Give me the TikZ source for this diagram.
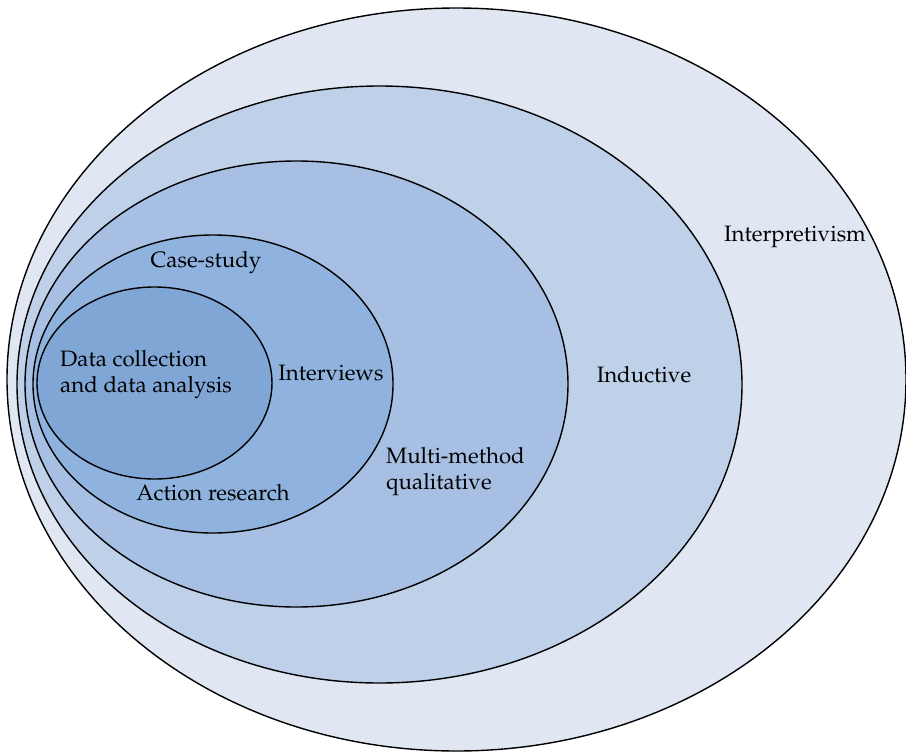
\documentclass[tikz,border=0pt]{standalone}
\usepackage[T1]{fontenc}
\usepackage{mathpazo}
\definecolor{c1}{RGB}{224,231,243}
\definecolor{c2}{RGB}{191,208,233}
\definecolor{c3}{RGB}{166,191,227}
\definecolor{c4}{RGB}{143,179,222}
\definecolor{c5}{RGB}{128,166,214}
\tikzset{ring/.style={draw=black,line width=1.4pt},
lbl/.style={font=\fontsize{22.3}{26}\selectfont,inner sep=0pt}}
\begin{document}
\begin{tikzpicture}[x=1pt,y=-1pt]
\useasboundingbox (0,0) rectangle (906,753);
\fill[white] (0,0) rectangle (906,753);
\draw[ring,fill=c1] (456.5,379.5) ellipse [x radius=449.5,y radius=371.5];
\draw[ring,fill=c2] (379.5,384.5) ellipse [x radius=362.5,y radius=298.5];
\draw[ring,fill=c3] (296.5,384) ellipse [x radius=271.5,y radius=223];
\draw[ring,fill=c4] (213,384) ellipse [x radius=180,y radius=149];
\draw[ring,fill=c5] (154.5,383) ellipse [x radius=117.5,y radius=96];
\node[lbl] (interp) at (795,237) {Interpretivism};
\node[lbl] (induct) at (644,375) {Inductive};
\node[lbl,align=left,anchor=west] (multi) at (386,472) {Multi-method\\qualitative};
\node[lbl] (interv) at (331,373) {Interviews};
\node[lbl] (case) at (206,263) {Case-study};
\node[lbl] (action) at (213,493) {Action research};
\node[lbl,align=left,anchor=west] (data) at (60,375) {Data collection\\and data analysis};
\end{tikzpicture}
\end{document}
